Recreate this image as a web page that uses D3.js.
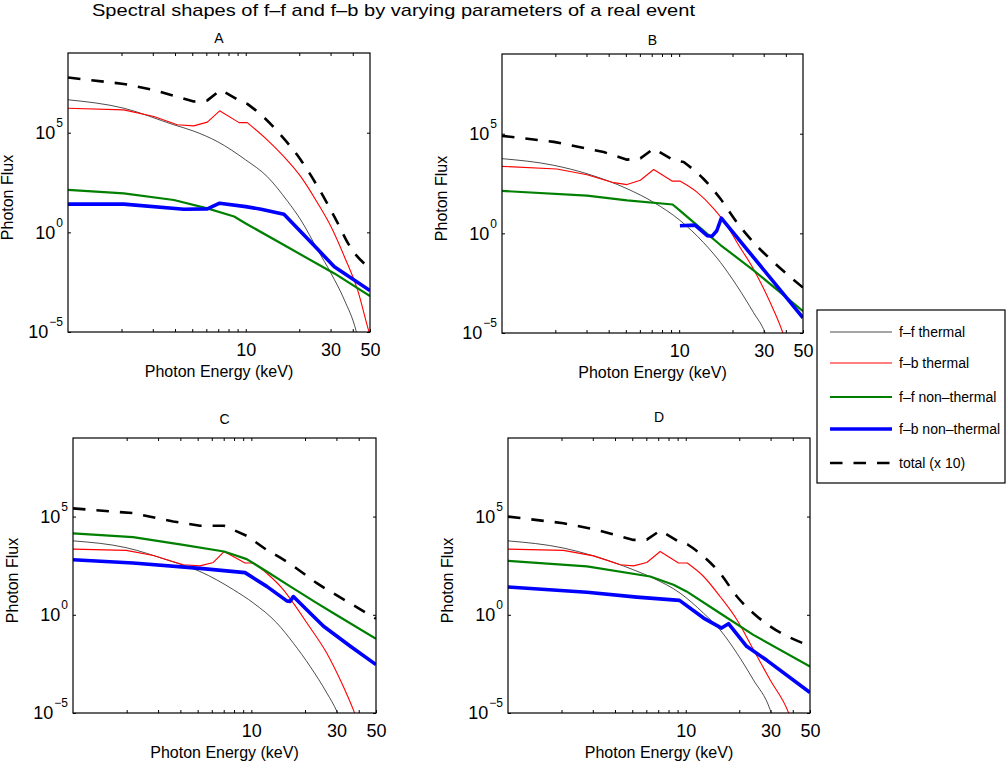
<!DOCTYPE html>
<html>
<head>
<meta charset="utf-8">
<script src="https://cdn.jsdelivr.net/npm/d3@7"></script>
<style>
  html, body { margin: 0; padding: 0; background: #fff; }
  svg text { font-family: "Liberation Sans", Arial, Helvetica, sans-serif; fill: #000; }
</style>
</head>
<body>
<div id="chart"></div>
<script>
// ---------------------------------------------------------------------------
// Spectral shapes of f-f and f-b — 4 log-log panels + shared legend
// ---------------------------------------------------------------------------

const panelNames = ['A', 'B', 'C', 'D'];
const seriesNames = ['f\u2013f thermal', 'f\u2013b thermal', 'f\u2013f non\u2013thermal', 'f\u2013b non\u2013thermal', 'total (x 10)'];
const energyLabels = [10, 30, 50];
const energyTicks = [2, 3, 4, 5, 6, 7, 8, 9, 10, 20, 30, 40];
const fluxTicks = [1e-5, 1, 1e5];

// [photon energy keV, photon flux]
const ffThermalA = [[1, 4.5e6], [2.06, 1.7e6], [3.94, 2.5e5], [5.1, 1.2e5], [6.92, 3.6e4], [10, 4.3e3], [13.2, 630], [17.2, 36], [20.4, 4.2], [25.4, 0.13], [30.2, 8.7e-3], [35.9, 4.0e-4], [41.7, 1.2e-5], [43, 4e-6]];
const fbThermalA = [[1, 1.7e6], [2.06, 1.4e6], [3.04, 6.5e5], [4.12, 2.5e5], [5.1, 2.2e5], [6.08, 3.4e5], [7.13, 1.26e6], [9.17, 3.2e5], [10.2, 3.2e5], [13.2, 4.4e4], [16.4, 6.3e3], [20.4, 630], [25.4, 29], [30.2, 1.9], [35.9, 0.06], [42.6, 1.26e-3], [49.4, 1.0e-5], [50, 7e-6]];
const ffNonThermalA = [[1, 135], [2.06, 91], [3.94, 42], [6.08, 16], [8.6, 6.2], [10, 2.8], [16.4, 0.23], [31.5, 8.7e-3], [50, 6.3e-4]];
const fbNonThermalA = [[1, 26], [2.06, 26], [4.49, 14.5], [6.08, 15], [7.13, 29], [10, 19.5], [12.2, 14.5], [16.4, 8], [25.4, 0.14], [31.5, 0.019], [50, 1.2e-3]];
const totalA = [[1, 5.9e7], [2.06, 2.8e7], [3.04, 1.4e7], [5.1, 3.7e6], [6.08, 4.2e6], [7.23, 1.4e7], [9.37, 3.7e6], [10.2, 2.8e6], [12.2, 7.9e5], [15.7, 7.8e4], [20.4, 4.3e3], [25.4, 195], [31.5, 6.2], [39.1, 0.16], [50, 0.0155]];

const ffThermalB = [[1, 5.6e3], [1.96, 2.6e3], [3.02, 980], [5.08, 174], [7.18, 36], [10.1, 4.5], [13.7, 0.35], [17.1, 0.035], [21.2, 2.3e-3], [26.3, 1.05e-4], [30.6, 1.0e-5], [31.5, 5e-6]];
const fbThermalB = [[1, 2.3e3], [2.04, 1.7e3], [3.02, 870], [4.27, 350], [5.08, 280], [6.04, 460], [7.18, 1.6e3], [9.11, 420], [10.1, 420], [12.6, 117], [15.7, 17], [18.6, 2.5], [21.2, 0.35], [26.3, 0.016], [32.7, 3.3e-4], [38.5, 1.0e-5], [39.5, 5e-6]];
const ffNonThermalB = [[1, 135], [3.02, 79], [5.08, 45], [9.19, 28], [10.1, 13.8], [12.6, 2.6], [17.1, 0.26], [26.3, 0.014], [50, 1.26e-4]];
const fbNonThermalB = [[10.1, 2.4], [12.3, 2.6], [14.4, 0.76], [15.3, 0.71], [16.3, 1.35], [17.3, 5.8], [50, 5.8e-5]];
const totalB = [[1, 7.8e4], [1.96, 3.9e4], [3.75, 1.2e4], [5.08, 5.0e3], [6.04, 5.8e3], [7.18, 1.8e4], [9.31, 4.6e3], [10.6, 3.8e3], [13.7, 550], [17.1, 54], [21.2, 3.5], [26.3, 0.35], [32.7, 0.051], [50, 1.9e-3]];

const ffThermalC = [[1, 5.8e3], [1.99, 2.6e3], [3.35, 630], [5.15, 160], [7.93, 19], [10.3, 3.9], [13.9, 0.38], [17.2, 0.036], [21.4, 2.3e-3], [26.5, 1.05e-4], [30.2, 1.2e-5], [31.5, 5e-6]];
const fbThermalC = [[1, 2.2e3], [1.99, 1.9e3], [2.82, 1.05e3], [4.15, 350], [5.15, 310], [6.12, 460], [7.03, 1.66e3], [9.22, 430], [10.3, 430], [12.2, 130], [15.1, 19], [17.2, 3.9], [20.5, 0.38], [26.5, 0.011], [31.5, 4.9e-4], [37.8, 1.07e-5], [39, 5e-6]];
const ffNonThermalC = [[1, 1.4e4], [2.17, 8.9e3], [4.15, 3.6e3], [7.03, 1.66e3], [9.42, 680], [12.2, 160], [16.5, 28], [23.3, 3.9], [28.9, 1.2], [50, 0.06]];
const fbNonThermalC = [[1, 630], [2.17, 430], [5.15, 230], [9.22, 140], [12.2, 28], [15.8, 5.1], [16.5, 4.8], [17.2, 8.5], [21.4, 1.2], [25.4, 0.26], [35.9, 0.025], [50, 2.9e-3]];
const totalC = [[1, 2.6e5], [2.17, 1.5e5], [3.65, 5.6e4], [5.15, 3.4e4], [7.03, 3.4e4], [9.42, 1.05e4], [12.2, 2.0e3], [16.5, 390], [23.3, 41], [34.4, 4.8], [50, 0.63]];

const ffThermalD = [[1, 5.8e3], [2.05, 2.5e3], [3.03, 1.0e3], [5.08, 195], [6.59, 72], [9.3, 12.6], [12.6, 1.2], [15.6, 0.17], [19.4, 0.011], [24.0, 4.9e-4], [29.8, 1.5e-5], [31, 5e-6]];
const fbThermalD = [[1, 2.2e3], [2.05, 1.9e3], [3.03, 1.0e3], [4.28, 350], [5.08, 310], [6.04, 460], [7.18, 1.66e3], [9.1, 430], [10.2, 430], [12.6, 89], [15.6, 8.5], [19.4, 0.56], [24.0, 0.017], [29.8, 4.9e-4], [37.8, 1.07e-5], [39, 5e-6]];
const ffNonThermalD = [[1, 560], [2.78, 290], [6.31, 89], [8.53, 34], [10.1, 15.5], [15.6, 1.2], [24.0, 0.095], [50, 2.3e-3]];
const fbNonThermalD = [[1, 26], [2.78, 14], [5.31, 7.9], [9.22, 5.4], [12.6, 0.68], [15.9, 0.21], [17.4, 0.35], [22.0, 0.025], [28.6, 4.8e-3], [50, 1.1e-4]];
const totalD = [[1, 1.0e5], [2.05, 4.6e4], [3.16, 2.1e4], [5.08, 6.5e3], [6.04, 6.7e3], [7.18, 1.95e4], [9.3, 4.8e3], [10.2, 3.9e3], [12.6, 930], [15.6, 130], [19.4, 8.5], [24.0, 1.2], [29.8, 0.26], [50, 0.026]];

const panelSeries = [
  [ffThermalA, fbThermalA, ffNonThermalA, fbNonThermalA, totalA],
  [ffThermalB, fbThermalB, ffNonThermalB, fbNonThermalB, totalB],
  [ffThermalC, fbThermalC, ffNonThermalC, fbNonThermalC, totalC],
  [ffThermalD, fbThermalD, ffNonThermalD, fbNonThermalD, totalD]
];

// line styles, legend order. smoothFrom: energy above which the curve is drawn smooth
const styles = [
  { color: '#000', width: 0.7, dash: null, smoothFrom: 1 },
  { color: '#ff0000', width: 1.1, dash: null, smoothFrom: 10 },
  { color: '#008000', width: 2.2, dash: null, smoothFrom: null },
  { color: '#0000ff', width: 3.6, dash: null, smoothFrom: null },
  { color: '#000', width: 2.6, dash: '12.5,11', smoothFrom: 10 }
];

// subplot boxes (pixel positions in the figure)
const boxes = [
  { x0: 68, x1: 370, y0: 53, y1: 332, titleGap: 10 },
  { x0: 502, x1: 803, y0: 54, y1: 333, titleGap: 9 },
  { x0: 73, x1: 376, y0: 438, y1: 713, titleGap: 14 },
  { x0: 508, x1: 810, y0: 438, y1: 713, titleGap: 16 }
];

const W = 1006, H = 763;
const svg = d3.select('#chart').append('svg')
  .attr('width', W).attr('height', H)
  .attr('viewBox', `0 0 ${W} ${H}`);

svg.append('text')
  .attr('x', 92).attr('y', 16)
  .attr('font-size', '17px')
  .attr('textLength', 603).attr('lengthAdjust', 'spacingAndGlyphs')
  .text('Spectral shapes of f\u2013f and f\u2013b by varying parameters of a real event');

const supMinus = n => (n < 0 ? '\u2212' + Math.abs(n) : String(n));

boxes.forEach((b, pi) => {
  const w = b.x1 - b.x0, h = b.y1 - b.y0;
  const x = d3.scaleLog().domain([1, 50]).range([0, w]);
  const y = d3.scaleLog().domain([1e-5, 1e9]).range([h, 0]);

  const g = svg.append('g').attr('transform', `translate(${b.x0},${b.y0})`);

  g.append('clipPath').attr('id', `clip${pi}`)
    .append('rect').attr('width', w).attr('height', h);

  // bottom axis with labels
  const xb = g.append('g').attr('transform', `translate(0,${h})`)
    .call(d3.axisBottom(x).tickValues(energyTicks.concat([50]))
      .tickSizeInner(-3).tickSizeOuter(0).tickPadding(11)
      .tickFormat(d => energyLabels.includes(d) ? d : ''));
  xb.select('.domain').remove();
  xb.selectAll('text').attr('font-size', '18px').attr('font-family', null);

  // top axis, ticks only
  const xt = g.append('g')
    .call(d3.axisTop(x).tickValues(energyTicks).tickSizeInner(-3).tickSizeOuter(0).tickFormat(''));
  xt.select('.domain').remove();

  // left axis with 10^n labels
  const yl = g.append('g')
    .call(d3.axisLeft(y).tickValues(fluxTicks).tickSizeInner(-3).tickSizeOuter(0).tickPadding(5));
  yl.select('.domain').remove();
  yl.selectAll('.tick text')
    .attr('font-family', null)
    .attr('font-size', '18px')
    .attr('dy', '0.32em')
    .each(function (d) {
      const t = d3.select(this).text(null);
      t.append('tspan').text('10');
      t.append('tspan').attr('dx', 1).attr('dy', -12).attr('font-size', '12px')
        .text(supMinus(Math.round(Math.log10(d))));
    });

  const yr = g.append('g').attr('transform', `translate(${w},0)`)
    .call(d3.axisRight(y).tickValues(fluxTicks).tickSizeInner(-3).tickSizeOuter(0).tickFormat(''));
  yr.select('.domain').remove();

  g.selectAll('.tick line').attr('stroke', '#000').attr('stroke-width', 1);

  // curves: straight segments up to smoothFrom, smooth tail after it
  const lines = g.append('g').attr('clip-path', `url(#clip${pi})`);
  const straight = d3.line().x(d => x(d[0])).y(d => y(d[1]));
  const smooth = d3.line().x(d => x(d[0])).y(d => y(d[1])).curve(d3.curveMonotoneX);

  panelSeries[pi].forEach((data, si) => {
    const st = styles[si];
    let d;
    if (st.smoothFrom == null) {
      d = straight(data);
    } else {
      const k = Math.max(0, data.findIndex(p => p[0] >= st.smoothFrom));
      const head = data.slice(0, k + 1);
      const tail = data.slice(k);
      d = (head.length > 1 ? straight(head) : '') + smooth(tail).replace(/^M/, head.length > 1 ? 'L' : 'M');
    }
    lines.append('path')
      .attr('d', d)
      .attr('fill', 'none')
      .attr('stroke', st.color)
      .attr('stroke-width', st.width)
      .attr('stroke-dasharray', st.dash)
      .attr('stroke-linejoin', 'round');
  });

  // frame
  g.append('rect').attr('width', w).attr('height', h)
    .attr('fill', 'none').attr('stroke', '#000').attr('stroke-width', 1.2);

  g.append('text')
    .attr('x', w / 2).attr('y', -b.titleGap)
    .attr('text-anchor', 'middle').attr('font-size', '14px')
    .text(panelNames[pi]);

  g.append('text')
    .attr('x', w / 2).attr('y', h + 45)
    .attr('text-anchor', 'middle').attr('font-size', '16px')
    .text('Photon Energy (keV)');

  g.append('text')
    .attr('transform', `translate(-55,${h / 2 + 5}) rotate(-90)`)
    .attr('text-anchor', 'middle').attr('font-size', '16px')
    .text('Photon Flux');
});

// legend
const legend = svg.append('g').attr('transform', 'translate(817,310)');
legend.append('rect')
  .attr('width', 188).attr('height', 173)
  .attr('fill', '#fff').attr('stroke', '#000').attr('stroke-width', 1.2);

const legendRowY = [22, 53, 87, 119, 153];
seriesNames.forEach((name, i) => {
  const st = styles[i];
  const row = legend.append('g').attr('transform', `translate(0,${legendRowY[i]})`);
  row.append('line')
    .attr('x1', 13).attr('x2', 75)
    .attr('stroke', st.color).attr('stroke-width', st.width)
    .attr('stroke-dasharray', st.dash);
  row.append('text')
    .attr('x', 82).attr('dy', '0.35em')
    .attr('font-size', '14px')
    .text(name);
});
</script>
</body>
</html>
